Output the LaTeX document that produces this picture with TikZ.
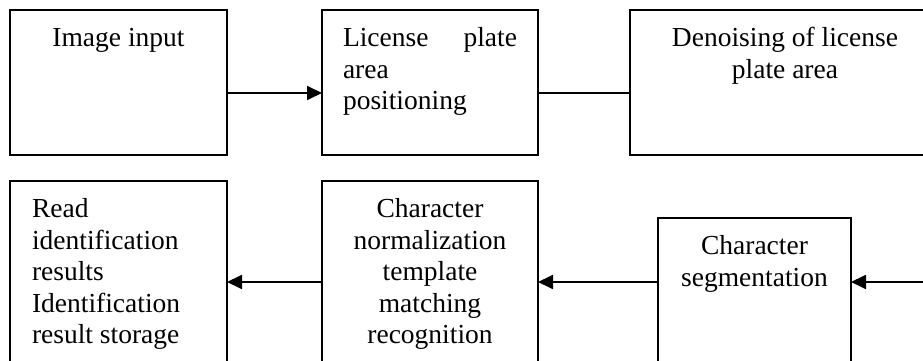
\documentclass[tikz,border=0pt]{standalone}
\usepackage{fontspec}
\setmainfont{Liberation Serif}
\usetikzlibrary{arrows.meta}
\begin{document}
\begin{tikzpicture}[x=1pt,y=1pt,
  box/.style={draw,line width=1.8pt,rectangle,inner sep=0pt,outer sep=0pt},
  txt/.style={inner sep=0pt,outer sep=0pt,font={\fontsize{27.5}{31.5}\selectfont}},
  arr/.style={line width=1.8pt,-{Triangle[length=15pt,width=14pt]}},
  con/.style={line width=1.8pt}]
\useasboundingbox (0,0) rectangle (923,361);
\fill[white] (0,0) rectangle (923,361);
\clip (0,0) rectangle (923,361);
% boxes
\node[box,minimum width=217pt,minimum height=145pt] (b1) at (118.5,278.5) {};
\node[box,minimum width=216pt,minimum height=145pt] (b2) at (430,278.5) {};
\node[box,minimum width=310pt,minimum height=145pt] (b3) at (785,278.5) {};
\node[box,minimum width=217pt,minimum height=194pt] (b4) at (118.5,83) {};
\node[box,minimum width=216pt,minimum height=194pt] (b5) at (430,83) {};
\node[box,minimum width=193pt,minimum height=157pt] (b6) at (754.5,64.5) {};
% texts
\node[txt,anchor=north] (t1) at (118.5,336.1) {\strut Image input};
\node[txt,anchor=north west,align=left] (t2) at (343,336.4) {\strut\makebox[174pt]{License\hfill plate}\\area\\positioning};
\node[txt,anchor=north,align=center] (t3) at (785,336.1) {\strut Denoising of license\\plate area};
\node[txt,anchor=north west,align=left] (t4) at (32,165.4) {\strut Read\\identification\\results\\Identification\\result storage};
\node[txt,anchor=north,align=center] (t5) at (430,165.1) {\strut Character\\normalization\\template\\matching\\recognition};
\node[txt,anchor=north,align=center] (t6) at (754.5,128.1) {\strut Character\\segmentation};
% connectors
\coordinate (ra) at (0,268);
\coordinate (rb) at (0,79);
\coordinate (src) at (935,79);
\draw[arr] (b1.east |- ra) -- (b2.west |- ra);
\draw[con] (b2.east |- ra) -- (b3.west |- ra);
\draw[arr] (src) -- (b6.east |- rb);
\draw[arr] (b6.west |- rb) -- (b5.east |- rb);
\draw[arr] (b5.west |- rb) -- (b4.east |- rb);
\end{tikzpicture}
\end{document}
